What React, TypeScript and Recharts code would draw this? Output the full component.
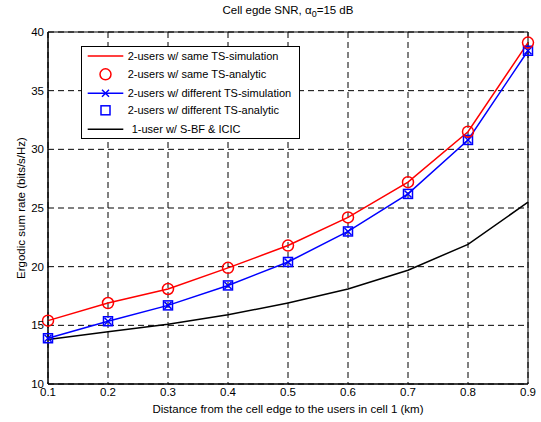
import React from "react";
import {
  LineChart,
  Line,
  XAxis,
  YAxis,
  CartesianGrid,
  ReferenceArea,
} from "recharts";

const distances = [0.1, 0.2, 0.3, 0.4, 0.5, 0.6, 0.7, 0.8, 0.9];
const sameTsSim = [15.4, 16.9, 18.1, 19.9, 21.8, 24.2, 27.2, 31.5, 39.1];
const sameTsAna = [15.4, 16.9, 18.1, 19.9, 21.8, 24.2, 27.2, 31.5, 39.1];
const diffTsSim = [13.9, 15.35, 16.7, 18.4, 20.4, 23.0, 26.2, 30.8, 38.4];
const diffTsAna = [13.9, 15.35, 16.7, 18.4, 20.4, 23.0, 26.2, 30.8, 38.4];
const singleUser = [13.8, 14.45, 15.1, 15.9, 16.9, 18.1, 19.7, 21.9, 25.5];
const xTicks = [0.1, 0.2, 0.3, 0.4, 0.5, 0.6, 0.7, 0.8, 0.9];
const yTicks = [10, 15, 20, 25, 30, 35, 40];

const legendLabels = [
  "2-users w/ same TS-simulation",
  "2-users w/ same TS-analytic",
  "2-users w/ different TS-simulation",
  "2-users w/ different TS-analytic",
  "1-user w/ S-BF & ICIC",
];

const data = distances.map((d, i) => ({
  x: d,
  sameSim: sameTsSim[i],
  sameAna: sameTsAna[i],
  diffSim: diffTsSim[i],
  diffAna: diffTsAna[i],
  single: singleUser[i],
}));

const FONT = '"Liberation Sans", Arial, Helvetica, sans-serif';

const CircleDot = (props: any) => {
  const { cx, cy } = props;
  if (cx == null || cy == null) return null;
  return <circle cx={cx} cy={cy} r={5.5} fill="none" stroke="#ff0000" strokeWidth={1.5} />;
};
const XDot = (props: any) => {
  const { cx, cy } = props;
  if (cx == null || cy == null) return null;
  const s = 3.5;
  return (
    <path
      d={`M${cx - s},${cy - s}L${cx + s},${cy + s}M${cx - s},${cy + s}L${cx + s},${cy - s}`}
      stroke="#0000ff"
      strokeWidth={1.5}
      fill="none"
    />
  );
};
const SquareDot = (props: any) => {
  const { cx, cy } = props;
  if (cx == null || cy == null) return null;
  return (
    <rect x={cx - 4.5} y={cy - 4.5} width={9} height={9} fill="none" stroke="#0000ff" strokeWidth={1.5} />
  );
};

const LegendBox = () => {
  const rows = [10, 28.3, 47.3, 64.3, 83.3];
  return (
    <svg
      width={220}
      height={94}
      style={{ position: "absolute", left: 81, top: 46, display: "block" }}
    >
      <rect x={0.5} y={0.5} width={218} height={92} fill="#fff" stroke="#000" strokeWidth={1} />
      <line x1={6.7} x2={42.3} y1={rows[0]} y2={rows[0]} stroke="#ff0000" strokeWidth={1.5} />
      <circle cx={24.5} cy={rows[1]} r={5.5} fill="none" stroke="#ff0000" strokeWidth={1.5} />
      <line x1={6.7} x2={42.3} y1={rows[2]} y2={rows[2]} stroke="#0000ff" strokeWidth={1.5} />
      <XDot cx={24.5} cy={rows[2]} />
      <SquareDot cx={24.5} cy={rows[3]} />
      <line x1={6.7} x2={42.3} y1={rows[4]} y2={rows[4]} stroke="#000" strokeWidth={1.5} />
      {legendLabels.map((t, i) => (
        <text
          key={t}
          x={i === 4 ? 50.7 : 46.7}
          y={rows[i]}
          dy="0.35em"
          fontSize={11}
          fontFamily={FONT}
          fill="#000"
        >
          {t}
        </text>
      ))}
    </svg>
  );
};

export default function App() {
  return (
    <div style={{ position: "absolute", left: 0, top: 0, width: 541, height: 422, background: "#fff", fontFamily: FONT }}>
      <LineChart
        width={541}
        height={422}
        data={data}
        margin={{ top: 32, right: 13, bottom: 0, left: 0 }}
        style={{ position: "absolute", left: 0, top: 0 }}
      >
        <CartesianGrid stroke="#000" strokeDasharray="6 4" strokeWidth={1} />
        <XAxis
          dataKey="x"
          type="number"
          domain={[0.1, 0.9]}
          ticks={xTicks}
          tickFormatter={(v: number) => v.toFixed(1)}
          tickLine={false}
          tickSize={0}
          tickMargin={4}
          height={38}
          axisLine={{ stroke: "#000" }}
          tick={{ fill: "#000", fontSize: 11.5, fontFamily: FONT }}
          label={{
            value: "Distance from the cell edge to the users in cell 1 (km)",
            position: "insideBottom",
            offset: 9,
            style: { fill: "#000", fontSize: 11.5, fontFamily: FONT },
          }}
        />
        <YAxis
          type="number"
          domain={[10, 40]}
          ticks={yTicks}
          tickLine={false}
          tickSize={0}
          tickMargin={4}
          width={48}
          axisLine={{ stroke: "#000" }}
          tick={{ fill: "#000", fontSize: 11.5, fontFamily: FONT }}
          label={{
            value: "Ergodic sum rate (bits/s/Hz)",
            angle: -90,
            position: "insideLeft",
            offset: 21,
            style: { textAnchor: "middle", fill: "#000", fontSize: 11.5, fontFamily: FONT },
          }}
        />
        <ReferenceArea x1={0.1} x2={0.9} y1={10} y2={40} fill="none" stroke="#000" strokeWidth={1} fillOpacity={0} />
        <Line dataKey="single" stroke="#000" strokeWidth={1.5} dot={false} isAnimationActive={false} />
        <Line dataKey="diffSim" stroke="#0000ff" strokeWidth={1.5} dot={<XDot />} isAnimationActive={false} />
        <Line dataKey="diffAna" stroke="none" dot={<SquareDot />} isAnimationActive={false} />
        <Line dataKey="sameSim" stroke="#ff0000" strokeWidth={1.5} dot={false} isAnimationActive={false} />
        <Line dataKey="sameAna" stroke="none" dot={<CircleDot />} isAnimationActive={false} />
      </LineChart>
      <div
        style={{
          position: "absolute",
          left: 48,
          width: 480,
          top: 3,
          textAlign: "center",
          fontSize: 11.5,
          color: "#000",
          fontFamily: FONT,
          lineHeight: "14px",
        }}
      >
        Cell egde SNR, α<sub style={{ fontSize: 9 }}>0</sub>=15 dB
      </div>
      <LegendBox />
    </div>
  );
}
